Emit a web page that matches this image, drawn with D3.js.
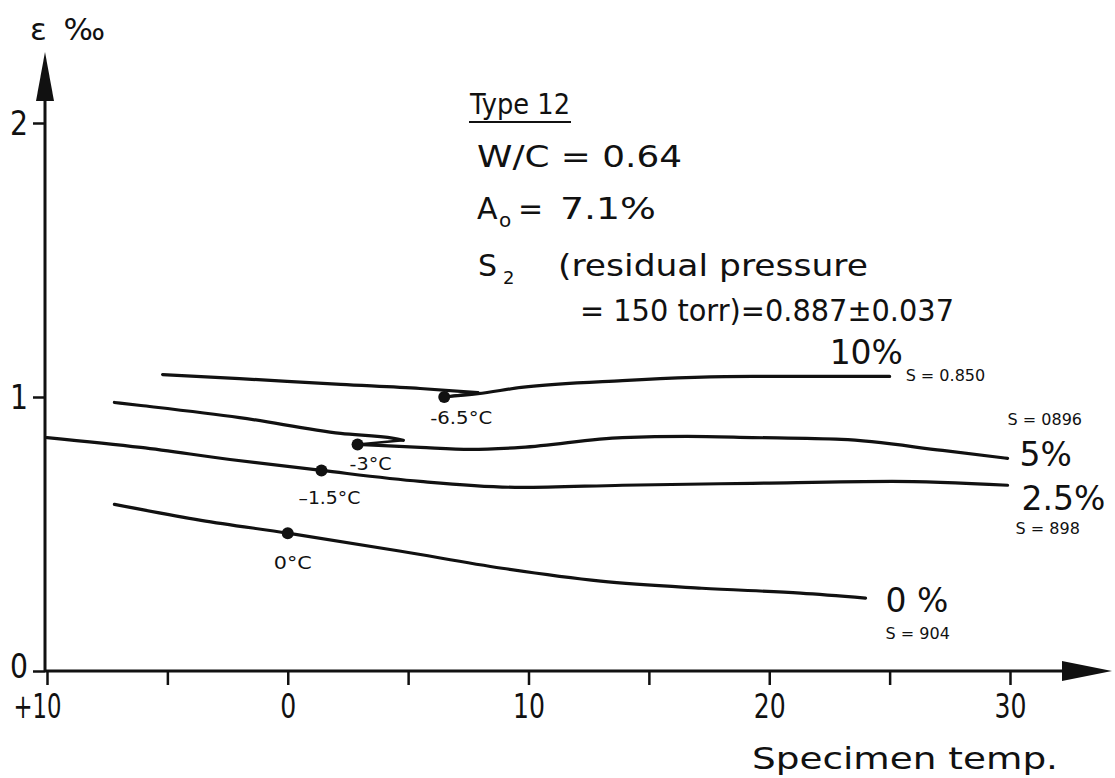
<!DOCTYPE html>
<html><head><meta charset="utf-8">
<script src="https://cdn.jsdelivr.net/npm/d3@7"></script>
<style>
html,body{margin:0;padding:0;background:#fff;}
svg{display:block;}
text{font-family:"DejaVu Sans",sans-serif;fill:#111;}
</style></head><body>
<svg id="chart" width="1115" height="778"></svg>
<script>
// ---------- DATA ----------
// x value = degrees below zero (axis reads +10, 0, 10, 20, 30 → cooling to the right)
const xTicks = [-10, -5, 0, 5, 10, 15, 20, 25, 30];
const xTickLabels = ["+10", "", "0", "", "10", "", "20", "", "30"];
const yTicks = [0, 1, 2];
const yTickLabels = ["0", "1", "2"];

const s10Cooling = [[-5.2, 1.082], [-2.0, 1.067], [2.2, 1.046], [5.5, 1.031], [7.9, 1.016]];
const s10After   = [[6.5, 1.0], [7.9, 1.012], [9.7, 1.035], [13.9, 1.060], [19.3, 1.075], [25.0, 1.075]];
const s5Cooling  = [[-7.2, 0.980], [-6.1, 0.969], [-2.0, 0.925], [2.2, 0.867], [4.4, 0.849], [4.8, 0.842]];
const s5After    = [[2.9, 0.827], [5.5, 0.816], [7.6, 0.809], [9.7, 0.816], [13.9, 0.852], [16.6, 0.856], [19.3, 0.852], [23.0, 0.845], [27.2, 0.805], [29.9, 0.776]];
const s25        = [[-10, 0.852], [-6.1, 0.816], [-2.4, 0.772], [1.4, 0.732], [5.5, 0.692], [9.7, 0.670], [13.9, 0.678], [19.3, 0.685], [25.1, 0.692], [29.9, 0.678]];
const s0         = [[-7.2, 0.608], [-3.6, 0.550], [0, 0.503], [4.7, 0.437], [8.9, 0.375], [13.0, 0.328], [17.2, 0.302], [21.3, 0.284], [24.0, 0.266]];

const freezePoints = [[6.5, 1.0], [2.9, 0.827], [1.4, 0.732], [0, 0.503]];
const freezeLabels = ["-6.5°C", "-3°C", "–1.5°C", "0°C"];

const seriesNames = ["10%", "5%", "2.5%", "0 %"];
const seriesS = ["S = 0.850", "S = 0896", "S = 898", "S = 904"];

// ---------- CHART ----------
const svg = d3.select("#chart");
const x = d3.scaleLinear().domain([-10, 30]).range([47, 1010]);
const y = d3.scaleLinear().domain([0, 2]).range([671, 123]);
const ink = "#111";
const narrowW = s => s.length * 16; // drafting-font digits are narrow

// axes
const xAxis = d3.axisBottom(x).tickValues(xTicks).tickSize(14)
  .tickFormat((d, i) => xTickLabels[i]);
const gx = svg.append("g").attr("transform", `translate(0,${y(0)})`).call(xAxis);
gx.select(".domain").remove();
gx.selectAll(".tick line").attr("stroke", ink).attr("stroke-width", 2.5);
gx.selectAll(".tick text").attr("y", 47).attr("dy", 0)
  .attr("dx", (d, i) => i === 0 ? -10 : 0)
  .style("font-size", "33px").attr("fill", ink)
  .each(function (d, i) {
    const t = xTickLabels[i];
    if (t) d3.select(this).attr("textLength", narrowW(t)).attr("lengthAdjust", "spacingAndGlyphs");
  });

const yAxis = d3.axisLeft(y).tickValues(yTicks).tickSize(12)
  .tickFormat((d, i) => yTickLabels[i]);
const gy = svg.append("g").attr("transform", `translate(${x(-10) - 2},0)`).call(yAxis);
gy.select(".domain").remove();
gy.selectAll(".tick line").attr("stroke", ink).attr("stroke-width", 2.5);
gy.selectAll(".tick text").attr("x", -17).attr("dy", (d, i) => i === 0 ? "0.2em" : "0.36em")
  .style("font-size", "33px").attr("fill", ink)
  .attr("textLength", 18).attr("lengthAdjust", "spacingAndGlyphs");

const ox = x(-10) - 2, oy = y(0);
svg.append("line").attr("x1", ox).attr("y1", oy).attr("x2", 1070).attr("y2", oy)
  .attr("stroke", ink).attr("stroke-width", 3);
svg.append("path").attr("d", `M1112,${oy} L1062,${oy - 10} L1062,${oy + 10} Z`).attr("fill", ink);
svg.append("line").attr("x1", ox).attr("y1", oy).attr("x2", ox).attr("y2", 95)
  .attr("stroke", ink).attr("stroke-width", 3);
svg.append("path").attr("d", `M${ox},52 L${ox - 9},101 L${ox + 9},101 Z`).attr("fill", ink);

svg.append("text").attr("x", 30).attr("y", 40).style("font-size", "31px")
  .attr("textLength", 75).attr("lengthAdjust", "spacing").text("ε ‰");
svg.append("text").attr("x", 752).attr("y", 769).style("font-size", "31px")
  .attr("textLength", 306).attr("lengthAdjust", "spacingAndGlyphs").text("Specimen temp.");

// curves
const smooth = d3.line().x(d => x(d[0])).y(d => y(d[1])).curve(d3.curveMonotoneX);
const straight = d3.line().x(d => x(d[0])).y(d => y(d[1]));
const curveStyle = sel => sel.attr("fill", "none").attr("stroke", ink)
  .attr("stroke-width", 3.2).attr("stroke-linejoin", "round").attr("stroke-linecap", "round");

[s10Cooling, s10After, s5Cooling, s5After, s25, s0].forEach(s =>
  svg.append("path").attr("d", smooth(s)).call(curveStyle));
// freeze hooks (supercooling tip back to freezing point)
svg.append("path").attr("d", straight([s10Cooling[s10Cooling.length - 1], freezePoints[0]])).call(curveStyle).attr("stroke-width", 2.5);
svg.append("path").attr("d", straight([s5Cooling[s5Cooling.length - 1], freezePoints[1]])).call(curveStyle).attr("stroke-width", 2.5);

svg.selectAll("circle.fp").data(freezePoints).join("circle").attr("class", "fp")
  .attr("cx", d => x(d[0])).attr("cy", d => y(d[1])).attr("r", 6).attr("fill", ink);

const fpOffsets = [[17, 27], [13, 26], [8, 34], [5, 36]];
const fpWidths = [62, 42, 62, 38];
svg.selectAll("text.fpl").data(freezeLabels).join("text").attr("class", "fpl")
  .attr("x", (d, i) => x(freezePoints[i][0]) + fpOffsets[i][0])
  .attr("y", (d, i) => y(freezePoints[i][1]) + fpOffsets[i][1])
  .attr("text-anchor", "middle").style("font-size", "18px")
  .attr("textLength", (d, i) => fpWidths[i]).attr("lengthAdjust", "spacingAndGlyphs").text(d => d);

// curve labels
const nameAnchors = [s10After, s5After, s25, s0].map(s => s[s.length - 1]);
const nameOff = [[-60, -12], [12, 8], [14, 25], [20, 14]];
const sOff = [[16, 5], [0, -33], [8, 49], [20, 41]];
svg.selectAll("text.nm").data(seriesNames).join("text").attr("class", "nm")
  .attr("x", (d, i) => x(nameAnchors[i][0]) + nameOff[i][0])
  .attr("y", (d, i) => y(nameAnchors[i][1]) + nameOff[i][1])
  .style("font-size", "33px").text(d => d);
svg.selectAll("text.sv").data(seriesS).join("text").attr("class", "sv")
  .attr("x", (d, i) => x(nameAnchors[i][0]) + sOff[i][0])
  .attr("y", (d, i) => y(nameAnchors[i][1]) + sOff[i][1])
  .style("font-size", "16px").text(d => d);

// annotation block
const ann = svg.append("g");
ann.append("text").attr("x", 470).attr("y", 114).style("font-size", "29px")
  .attr("textLength", 100).attr("lengthAdjust", "spacingAndGlyphs").text("Type 12");
ann.append("line").attr("x1", 469).attr("x2", 571).attr("y1", 122).attr("y2", 122).attr("stroke", ink).attr("stroke-width", 2);
ann.append("text").attr("x", 477).attr("y", 167).style("font-size", "30px")
  .attr("textLength", 205).attr("lengthAdjust", "spacingAndGlyphs").text("W/C = 0.64");
const a0 = ann.append("text").attr("y", 219).style("font-size", "30px");
a0.append("tspan").attr("x", 477).text("A");
a0.append("tspan").attr("x", 499).attr("dy", 8).style("font-size", "20px").text("o");
a0.append("tspan").attr("x", 518).attr("dy", -8).text("=");
ann.append("text").attr("x", 560).attr("y", 219).style("font-size", "30px")
  .attr("textLength", 96).attr("lengthAdjust", "spacingAndGlyphs").text("7.1%");
const s2 = ann.append("text").attr("y", 276).style("font-size", "30px");
s2.append("tspan").attr("x", 478).text("S");
s2.append("tspan").attr("x", 503).attr("dy", 8).style("font-size", "18px").text("2");
ann.append("text").attr("x", 558).attr("y", 276).style("font-size", "30px")
  .attr("textLength", 310).attr("lengthAdjust", "spacingAndGlyphs").text("(residual pressure");
ann.append("text").attr("x", 580).attr("y", 321).style("font-size", "30px")
  .attr("textLength", 374).attr("lengthAdjust", "spacingAndGlyphs").text("= 150 torr)=0.887±0.037");
</script></body></html>
